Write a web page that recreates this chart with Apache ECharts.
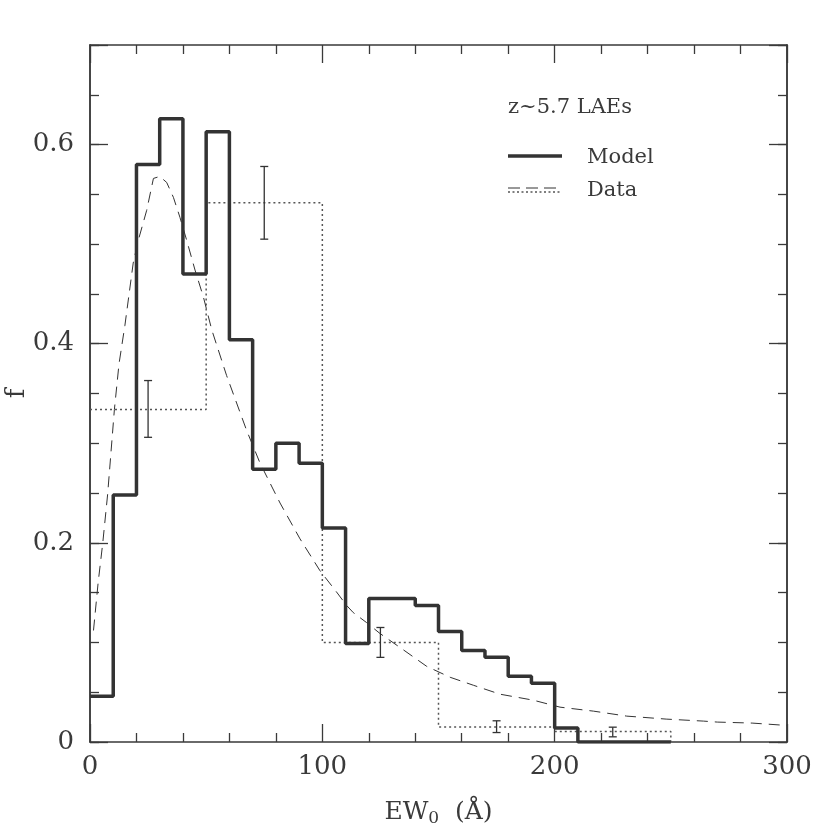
<!DOCTYPE html>
<html>
<head>
<meta charset="utf-8">
<script src="https://cdn.jsdelivr.net/npm/echarts@6/dist/echarts.min.js"></script>
<style>
	html, body { margin: 0; padding: 0; background: #fff; }
	#chart { width: 830px; height: 830px; }
</style>
</head>
<body>
<div id="chart"></div>
<script>
	// model histogram: left edge of each 10 A bin, and fraction
	const modelEdges = [0, 10, 20, 30, 40, 50, 60, 70, 80, 90, 100, 110, 120, 130, 140, 150, 160, 170, 180, 190, 200, 210, 220, 230, 240, 250];
	const modelF = [0.046, 0.248, 0.580, 0.626, 0.470, 0.613, 0.404, 0.274, 0.300, 0.280, 0.215, 0.099, 0.144, 0.144, 0.137, 0.111, 0.092, 0.085, 0.066, 0.059, 0.014, 0, 0, 0, 0, 0];

	// observed histogram: 50 A bins
	const dataEdges = [0, 50, 100, 150, 200, 250];
	const dataF = [0.334, 0.5415, 0.100, 0.0150, 0.0106, 0];

	// error bars at bin centres
	const errX = [25, 75, 125, 175, 225];
	const errLo = [0.306, 0.505, 0.085, 0.0095, 0.0052];
	const errHi = [0.363, 0.578, 0.115, 0.0213, 0.0149];

	// dashed curve
	const curveX = [1.5, 3.5, 5.5, 7.6, 10.5, 12.5, 15, 18.6, 20.8, 24.4, 27.3, 30, 33, 35.9, 38.7, 41.6, 45.2, 48.8, 52.4, 58.8, 67.4, 73.2, 81.8, 90.4, 99, 106, 110.5, 113.3, 119, 124.8, 133.4, 144.9, 155, 165, 176.5, 190.8, 202.3, 216.7, 231, 248, 264, 270, 285, 300];
	const curveF = [0.112, 0.160, 0.200, 0.249, 0.334, 0.380, 0.418, 0.481, 0.504, 0.534, 0.566, 0.568, 0.562, 0.547, 0.527, 0.504, 0.474, 0.447, 0.414, 0.368, 0.313, 0.280, 0.240, 0.204, 0.172, 0.151, 0.137, 0.130, 0.120, 0.109, 0.095, 0.076, 0.065, 0.057, 0.048, 0.042, 0.035, 0.031, 0.026, 0.023, 0.021, 0.020, 0.019, 0.0166];

	const xLabels = [0, 100, 200, 300];
	const yLabels = [0, 0.2, 0.4, 0.6];

	const FONT = 'DejaVu Serif';
	const INK = '#3a3a3a';

	const pairs = (xs, ys) => xs.map((x, i) => [x, ys[i]]);

	function xAx(pos, show) {
		return {
			type: 'value', position: pos, min: 0, max: 300, interval: 100,
			axisLine: { show: true, onZero: false, lineStyle: { color: INK, width: 1.5 } },
			axisTick: { show: true, inside: true, length: 18, lineStyle: { color: INK, width: 1.3 } },
			minorTick: { show: true, splitNumber: 5, length: 9, lineStyle: { color: INK, width: 1.3 } },
			splitLine: { show: false },
			axisLabel: {
				show: show, margin: 12, color: INK, fontFamily: FONT, fontSize: 26,
				formatter: v => xLabels.indexOf(v) >= 0 ? String(v) : ''
			}
		};
	}

	function yAx(pos, interval, len, show) {
		return {
			type: 'value', position: pos, min: 0, max: 0.7, interval: interval,
			axisLine: { show: true, onZero: false, lineStyle: { color: INK, width: 1.5 } },
			axisTick: { show: true, inside: true, length: len, lineStyle: { color: INK, width: 1.3 } },
			splitLine: { show: false },
			axisLabel: {
				show: show, margin: 16, color: INK, fontFamily: FONT, fontSize: 26,
				formatter: v => {
					const r = Math.round(v * 100) / 100;
					return yLabels.indexOf(r) >= 0 ? String(r) : '';
				}
			}
		};
	}

	const chart = echarts.init(document.getElementById('chart'));

	const xBottom = xAx('bottom', true);
	xBottom.name = 'EW{sub|0}  (Å)';
	xBottom.nameLocation = 'middle';
	xBottom.nameMoveOverlap = false;
	xBottom.nameGap = 56;
	xBottom.nameTextStyle = {
		color: INK, fontFamily: FONT, fontSize: 25,
		rich: { sub: { fontFamily: FONT, fontSize: 17, color: INK, verticalAlign: 'bottom', padding: [12, 0, 0, 0] } }
	};

	const yLeft = yAx('left', 0.2, 18, true);
	yLeft.name = 'f';
	yLeft.nameLocation = 'middle';
	yLeft.nameMoveOverlap = false;
	yLeft.nameGap = 60;
	yLeft.nameTextStyle = { color: INK, fontFamily: FONT, fontSize: 26 };

	chart.setOption({
		animation: false,
		backgroundColor: '#fff',
		grid: { left: 90, right: 43, top: 45, bottom: 88, outerBoundsMode: 'none', containLabel: false },
		xAxis: [xBottom, xAx('top', false)],
		yAxis: [
			yLeft,
			yAx('left', 0.05, 9, false),
			yAx('right', 0.2, 18, false),
			yAx('right', 0.05, 9, false)
		],
		series: [
			{
				name: 'Model',
				type: 'line',
				step: 'end',
				symbol: 'none',
				data: pairs(modelEdges, modelF),
				lineStyle: { color: '#333', width: 3.5 },
				z: 4
			},
			{
				name: 'Data',
				type: 'line',
				step: 'end',
				symbol: 'none',
				data: pairs(dataEdges, dataF),
				lineStyle: { color: '#555', width: 1.5, type: [2, 3] },
				z: 3
			},
			{
				name: 'curve',
				type: 'line',
				symbol: 'none',
				data: pairs(curveX, curveF),
				lineStyle: { color: '#333', width: 1, type: [11, 7] },
				z: 3
			},
			{
				name: 'errors',
				type: 'custom',
				data: errX.map((x, i) => [x, errLo[i], errHi[i]]),
				renderItem: (params, api) => {
					const lo = api.coord([api.value(0), api.value(1)]);
					const hi = api.coord([api.value(0), api.value(2)]);
					const w = 4;
					const st = { stroke: '#333', lineWidth: 1.3 };
					return {
						type: 'group',
						children: [
							{ type: 'line', shape: { x1: lo[0], y1: lo[1], x2: hi[0], y2: hi[1] }, style: st },
							{ type: 'line', shape: { x1: lo[0] - w, y1: lo[1], x2: lo[0] + w, y2: lo[1] }, style: st },
							{ type: 'line', shape: { x1: hi[0] - w, y1: hi[1], x2: hi[0] + w, y2: hi[1] }, style: st }
						]
					};
				},
				z: 5
			}
		],
		// hand drawn legend block, top right
		graphic: [
			{ type: 'text', left: 508, top: 97, style: { text: 'z~5.7 LAEs', fill: INK, font: '21px "DejaVu Serif"' } },
			{ type: 'line', shape: { x1: 508, y1: 156, x2: 562, y2: 156 }, style: { stroke: '#333', lineWidth: 3.5 } },
			{ type: 'text', left: 587, top: 147, style: { text: 'Model', fill: INK, font: '21px "DejaVu Serif"' } },
			{ type: 'line', shape: { x1: 508, y1: 188, x2: 562, y2: 188 }, style: { stroke: '#333', lineWidth: 1, lineDash: [12, 6] } },
			{ type: 'line', shape: { x1: 508, y1: 192, x2: 562, y2: 192 }, style: { stroke: '#555', lineWidth: 1.3, lineDash: [2, 2.5] } },
			{ type: 'text', left: 587, top: 180, style: { text: 'Data', fill: INK, font: '21px "DejaVu Serif"' } }
		]
	});
</script>
</body>
</html>
